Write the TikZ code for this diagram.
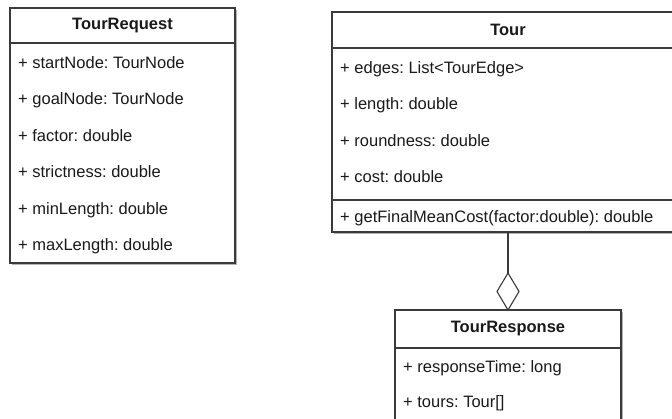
\documentclass[tikz,border=0pt]{standalone}
\usepackage{fontspec}
\setmainfont{Liberation Sans}
\usetikzlibrary{shapes.geometric,shadows}
\definecolor{umlline}{HTML}{3A3A3A}
\definecolor{umltext}{HTML}{1A1A1A}
\begin{document}
\frenchspacing
\begin{tikzpicture}[x=1pt,y=-1pt,
  compart/.style={draw=umlline, line width=1.1pt, fill=white, inner sep=0pt, outer sep=0pt, anchor=north west, text=umltext,
    drop shadow={shadow xshift=1.6pt, shadow yshift=-1.6pt, fill=black, opacity=0.3}},
  header/.style={compart, font=\fontsize{16.5}{19}\selectfont\bfseries},
  attr/.style={anchor=base west, inner sep=0pt, text=umltext, font=\fontsize{16.5}{19}\selectfont},
  aggr/.style={draw=umlline, line width=1.1pt, fill=white, shape=diamond, inner sep=0pt, outer sep=0pt, minimum width=22pt, minimum height=37pt},
  link/.style={draw=umlline, line width=1.1pt}]
\useasboundingbox (0,0) rectangle (672,419);
\clip (0,0) rectangle (672,419);
\fill[white] (0,0) rectangle (672,419);

% TourRequest
\node[header, minimum width=225pt, minimum height=35pt] (reqH) at (10,8) {TourRequest};
\node[compart, minimum width=225pt, minimum height=220pt] (reqB) at (reqH.south west) {};
\node[attr] (r1) at (18,68.5) {+ startNode: TourNode};
\node[attr] (r2) at (18,104.9) {+ goalNode: TourNode};
\node[attr] (r3) at (18,141.3) {+ factor: double};
\node[attr] (r4) at (18,177.7) {+ strictness: double};
\node[attr] (r5) at (18,214.1) {+ minLength: double};
\node[attr] (r6) at (18,250.5) {+ maxLength: double};

% Tour
\node[header, minimum width=352pt, minimum height=36pt] (tourH) at (332,12) {Tour};
\node[compart, minimum width=352pt, minimum height=152pt] (tourB) at (tourH.south west) {};
\node[compart, minimum width=352pt, minimum height=32pt] (tourM) at (tourB.south west) {};
\node[attr] (t1) at (340,73.5) {+ edges: List<TourEdge>};
\node[attr] (t2) at (340,109.8) {+ length: double};
\node[attr] (t3) at (340,146.1) {+ roundness: double};
\node[attr] (t4) at (340,182.4) {+ cost: double};
\node[attr] (t5) at (340,222.5) {+ getFinalMeanCost(factor:double): double};

% TourResponse
\node[header, minimum width=226pt, minimum height=38pt] (resH) at (395,310) {TourResponse};
\node[compart, minimum width=226pt, minimum height=92pt] (resB) at (resH.south west) {};
\node[attr] (s1) at (403,372.5) {+ responseTime: long};
\node[attr] (s2) at (403,407.5) {+ tours: Tour[]};

% aggregation
\node[aggr, anchor=south] (dia) at (resH.north) {};
\draw[link] (tourM.south) -- (dia.north);
\end{tikzpicture}
\end{document}
